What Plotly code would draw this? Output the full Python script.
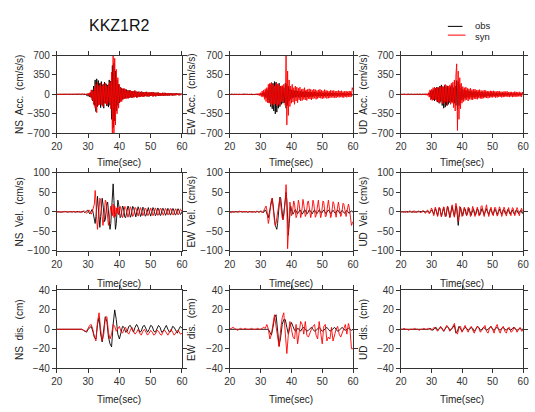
import numpy as np
import plotly.graph_objects as go

# ---------------- data ----------------
station = "KKZ1R2"
x_ticks = [20, 30, 40, 50, 60]
acc_ticks = [-700, -350, 0, 350, 700]
vel_ticks = [-100, -50, 0, 50, 100]
dis_ticks = [-40, -20, 0, 20, 40]

t_acc = np.round(20 + 0.25 * np.arange(161), 2)
t_vel = np.round(20 + 0.25 * np.arange(161), 2)
t_dis = np.round(20 + 0.5 * np.arange(81), 2)

ns_acc_obs = [
    0, 1, -1, 2, -2, 1, 0, -1, 1, -2, 2, -1, 0, 1, -1, 2,
    -2, 1, 0, -1, 2, -2, 1, 0, -1, 2, -3, 3, -2, 1, -4, 4,
    -5, 6, -8, 5, -12, 8, -20, 10, -35, 15, -45, 30, -60, 80, -120, 150,
    -200, 260, -310, 280, -220, 250, -180, 200, -240, 230, -200, 180, -250, 220, -160, 190,
    -210, 170, -230, 260, -200, 240, -450, 520, -600, 560, -480, 420, -300, 260, -200, 180,
    -150, 130, -120, 110, -90, 100, -80, 90, -70, 85, -60, 75, -65, 70, -55, 60,
    -60, 55, -50, 65, -45, 50, -55, 45, -40, 50, -45, 40, -35, 45, -40, 35,
    -35, 40, -30, 45, -35, 30, -40, 35, -30, 35, -25, 40, -30, 28, -35, 30,
    -25, 30, -28, 25, -30, 22, -20, 28, -25, 20, -22, 25, -18, 20, -25, 18,
    -20, 22, -15, 18, -20, 15, -18, 20, -15, 18, -12, 15, -18, 14, -12, 15,
    0]
ns_acc_syn = [
    0, 0, 1, -1, 0, 1, -1, 0, 1, -1, 0, 1, -1, 0, 1, -1,
    0, 1, -1, 0, 1, -1, 0, 1, -1, 0, 2, -2, 1, -1, 2, -2,
    3, -3, 4, -5, 6, -8, 10, -12, 18, -25, 30, -50, 80, -100, 60, -180,
    120, -250, 180, -330, 220, -200, 160, -190, 210, -180, 150, -220, 190, -160, 200, -170,
    150, -200, 180, -150, 220, -260, 400, -750, 750, -700, 650, -550, 450, -350, 300, -250,
    180, -140, 120, -130, 100, -90, 110, -80, 90, -75, 70, -80, 65, -60, 75, -55,
    60, -65, 50, -55, 70, -45, 50, -60, 45, -50, 40, -45, 55, -40, 35, -45,
    40, -35, 45, -40, 30, -35, 40, -30, 35, -30, 40, -45, 35, -30, 28, -35,
    30, -25, 35, -28, 25, -30, 22, -25, 28, -22, 30, -25, 20, -22, 25, -20,
    22, -18, 20, -22, 18, -20, 15, -18, 20, -15, 18, -12, 15, -18, 12, -15,
    0]
ew_acc_obs = [
    0, 1, -1, 1, 0, -1, 1, 0, -1, 1, 0, -1, 1, 0, -1, 1,
    0, -1, 1, 0, -1, 1, 0, -1, 1, -1, 2, -1, 1, -2, 2, -1,
    2, -3, 3, -2, 4, -5, 6, -8, 10, -15, 20, -25, 35, -40, 50, -60,
    80, -100, 120, -150, 180, -220, 210, -260, 200, -300, 230, -350, 220, -320, 180, -250,
    200, -220, 150, -180, 140, -160, 120, -150, 200, -250, 180, -200, 150, -120, 100, -90,
    80, -70, 75, -60, 65, -55, 70, -50, 60, -55, 50, -60, 55, -45, 50, -50,
    45, -50, 55, -40, 45, -45, 40, -50, 45, -40, 35, -45, 40, -35, 45, -30,
    35, -40, 30, -35, 40, -30, 35, -30, 30, -35, 28, -30, 32, -25, 30, -28,
    25, -30, 28, -22, 25, -28, 22, -25, 25, -20, 22, -25, 20, -22, 18, -20,
    20, -18, 22, -15, 18, -20, 15, -18, 18, -15, 20, -14, 16, -15, 12, -14,
    0]
ew_acc_syn = [
    3, -5, 4, -2, 6, -4, 2, -5, 4, -3, 5, -6, 3, -2, 5, -4,
    2, -5, 6, -3, 4, -5, 3, -2, 5, -6, 4, -3, 6, -5, 3, -6,
    8, -6, 10, -8, 12, -15, 20, -25, 30, -40, 60, -50, 80, -90, 100, -130,
    120, -150, 180, -160, 200, -190, 210, -170, 180, -200, 150, -170, 200, -210, 190, -180,
    170, -200, 150, -130, 160, -140, 180, -150, -200, 700, -550, 420, -380, 260, -220, 150,
    -160, 180, -140, 120, -180, 150, -120, 130, -150, 110, -100, 130, -120, 90, -110, 100,
    -90, 120, -100, 80, -110, 90, -80, 100, -85, 90, -100, 75, -80, 95, -70, 85,
    -90, 70, -75, 80, -65, 90, -70, 75, -80, 65, -70, 85, -60, 70, -75, 65,
    -70, 60, -65, 75, -55, 65, -60, 70, -60, 55, -65, 60, -50, 70, -55, 60,
    -50, 65, -55, 50, -60, 55, -45, 60, -55, 50, -45, 60, -50, 55, -40, 120,
    80]
ud_acc_obs = [
    0, 1, -1, 0, 1, -1, 0, 1, -1, 0, 1, -1, 0, 1, -1, 0,
    1, -1, 0, 1, -1, 0, 1, -1, 0, 2, -2, 1, -1, 3, -3, 2,
    -4, 5, -6, 8, -10, 20, -40, 60, -80, 70, -100, 90, -120, 110, -100, 130,
    -140, 120, -160, 150, -130, 170, -200, 140, -250, 160, -230, 130, -200, 150, -180, 120,
    -150, 140, -130, 160, -140, 120, -160, 150, -200, 250, -280, 230, -200, 180, -150, 120,
    -100, 90, -85, 80, -70, 75, -65, 70, -60, 65, -55, 60, -50, 55, -60, 50,
    -50, 55, -45, 50, -55, 45, -40, 50, -45, 40, -50, 45, -40, 35, -45, 40,
    -35, 40, -30, 35, -40, 30, -35, 32, -30, 35, -28, 30, -32, 25, -30, 28,
    -25, 30, -28, 22, -25, 28, -22, 25, -25, 20, -22, 25, -20, 22, -18, 20,
    -20, 18, -22, 15, -18, 20, -15, 18, -18, 15, -20, 14, -16, 15, -12, 14,
    0]
ud_acc_syn = [
    2, -3, 4, -2, 5, -4, 3, -6, 5, -3, 8, -6, 4, -5, 6, -3,
    4, -7, 10, -5, 6, -8, 5, -4, 7, -6, 5, -8, 10, -6, 8, -10,
    12, -15, 10, -20, 30, -50, 80, -100, 90, -110, 120, -100, 130, -90, 110, -130,
    120, -140, 130, -160, 150, -120, 140, -170, 130, -150, 180, -140, 160, -200, 150, -130,
    170, -180, 200, -160, 220, -240, 260, -300, 350, 550, -650, 420, -450, 300, -260, 200,
    -160, 140, -130, 120, -110, 130, -100, 110, -120, 100, -90, 110, -95, 85, -100, 90,
    -80, 95, -85, 75, -90, 80, -70, 85, -75, 70, -80, 65, -70, 75, -60, 70,
    -65, 60, -70, 55, -60, 65, -55, 60, -55, 65, -50, 55, -60, 50, -55, 60,
    -50, 55, -45, 50, -55, 45, -50, 55, -45, 50, -40, 55, -45, 40, -50, 45,
    -40, 45, -50, 40, -45, 50, -40, 45, -45, 40, -35, 45, -40, 35, -45, 40,
    0]

ns_vel_obs = [
    0, 0, 1, 0, -1, 0, 1, 0, 0, -1, 0, 1, 0, 0, -1, 0,
    1, 0, 0, -1, 0, 1, 0, 0, -1, 0, 1, 1, 0, -1, -1, 0,
    1, 2, 1, -1, -2, 0, 3, 4, 2, -3, -5, -2, 4, 6, 2, -8,
    -18, -30, -12, 25, 40, 12, -28, -40, -12, 22, 35, 20, -8, -25, -20, 5,
    20, 25, 5, -30, -45, -30, 10, 50, 72, 30, -20, -45, -30, 10, 30, 20,
    -5, -15, -12, 5, 15, 12, -2, -14, -15, -5, 10, 15, 8, -6, -14, -10,
    4, 14, 12, 0, -12, -13, -3, 10, 13, 6, -8, -12, -8, 4, 12, 9,
    -3, -11, -10, 0, 10, 11, 2, -9, -11, -4, 7, 11, 6, -5, -10, -7,
    3, 10, 8, -2, -9, -9, 0, 8, 9, 3, -6, -9, -5, 4, 9, 6,
    -3, -8, -7, 1, 8, 8, 0, -7, -8, -3, 5, 8, 4, -4, -7, -5,
    0]
ns_vel_syn = [
    0, 0, 0, 1, 0, 0, -1, 0, 0, 0, 1, 0, 0, -1, 0, 0,
    0, 1, 0, 0, -1, 0, 0, 1, 0, 0, -1, 0, 1, 1, 0, -1,
    -1, 0, 2, 3, 1, -2, -4, -2, 3, 5, 2, -3, -6, -2, 5, 10,
    20, 55, 30, -20, -45, -20, 20, 35, 30, 0, -25, -35, -20, 10, 30, 25,
    5, -20, -35, -20, 5, 15, 5, -10, 20, -15, 15, -12, 10, -5, 12, -8,
    10, 14, 5, -8, -15, -10, 3, 14, 12, 2, -10, -14, -6, 8, 13, 8,
    -4, -12, -10, 2, 11, 10, 0, -10, -11, -3, 8, 11, 5, -6, -10, -6,
    4, 10, 8, -2, -9, -9, 0, 8, 10, 4, -6, -10, -5, 5, 10, 6,
    -4, -9, -8, 1, 8, 9, 2, -7, -9, -4, 5, 9, 6, -3, -8, -7,
    2, 8, 8, 0, -7, -8, -2, 6, 8, 4, -4, -8, -5, 3, 7, 5,
    0]
ew_vel_obs = [
    0, 0, 1, 0, 0, -1, 0, 0, 1, 0, 0, -1, 0, 0, 1, 0,
    0, -1, 0, 0, 1, 0, 0, -1, 0, 0, 1, 0, -1, 0, 0, 1,
    0, -1, 0, 1, 1, 0, -1, 0, 1, 2, 0, -2, -1, 3, 5, 2,
    -5, -12, -15, -5, 5, 18, 30, 35, 20, 0, -20, -35, -40, -45, -30, 0,
    25, 38, 35, 10, -15, -20, -5, 15, 30, 50, 30, -30, -60, -30, 10, 15,
    5, -3, -6, -2, 4, 6, 2, -3, -5, -2, 3, 5, 2, -3, -6, -3,
    2, 5, 4, -1, -5, -4, 1, 5, 4, 0, -4, -5, -1, 4, 5, 1,
    -3, -5, -2, 3, 5, 2, -3, -4, -1, 4, 5, 1, -4, -5, -1, 3,
    5, 2, -3, -5, -2, 3, 4, 1, -3, -4, -1, 3, 5, 2, -3, -4,
    -1, 3, 4, 1, -3, -4, -1, 3, 4, 1, -3, -4, -1, 2, 3, 0,
    0]
ew_vel_syn = [
    0, -2, -3, -1, 2, 1, -1, 0, 1, 0, -1, 0, 1, 2, 0, -1,
    0, 1, 0, -1, 0, 1, 0, 0, -1, 0, 1, 0, -1, 0, 1, 0,
    0, -1, 1, 2, 0, -2, -1, 1, 2, 0, -3, -1, 3, 8, 10, 15,
    5, -15, -30, -20, 5, 20, 30, 35, 15, -10, -25, -35, -30, -15, 0, 15,
    30, 35, 20, 0, -15, -20, -10, 10, 30, 70, 20, -95, -40, 5, 25, 10,
    -10, -5, 15, 28, 20, 0, -15, -10, 10, 30, 20, -5, -15, -5, 15, 32,
    20, 0, -12, -8, 10, 25, 28, 10, -8, -15, -5, 15, 30, 22, 0, -14,
    -10, 8, 25, 30, 12, -8, -15, -5, 12, 28, 25, 5, -12, -12, 5, 25,
    30, 15, -5, -15, -8, 10, 26, 22, 5, -10, -14, 0, 18, 25, 12, -5,
    -12, -8, 8, 22, 20, 5, -10, -12, 0, 15, 20, 12, -5, -20, -35, -30,
    -25]
ud_vel_obs = [
    0, 0, 0, 1, 0, 0, -1, 0, 0, 1, 0, 0, -1, 0, 0, 1,
    0, 0, -1, 0, 1, 0, 0, -1, 0, 1, 0, -1, 0, 1, 0, -1,
    0, 1, -1, 0, 2, -1, -2, 1, 3, 5, -2, -6, 0, 8, 4, -6,
    -10, -2, 10, 8, -5, -12, -4, 10, 12, 0, -12, -10, 5, 14, 8, -8,
    -14, -5, 10, 14, 4, -10, -12, 0, 15, 10, -20, -35, -15, 8, 12, 3,
    -8, -10, 0, 9, 8, -3, -9, -5, 5, 9, 3, -6, -9, -2, 7, 8,
    0, -8, -7, 2, 8, 6, -3, -8, -5, 4, 8, 4, -5, -8, -2, 6,
    8, 2, -6, -7, 0, 7, 6, -2, -7, -5, 3, 7, 4, -4, -7, -2,
    5, 7, 1, -6, -6, 1, 6, 5, -2, -6, -4, 3, 6, 3, -4, -6,
    -1, 5, 5, -1, -5, -4, 2, 5, 3, -3, -5, -1, 4, 4, -1, -4,
    0]
ud_vel_syn = [
    0, 1, 0, -1, 0, 1, 2, 1, -1, -2, 0, 2, 3, 1, -2, -3,
    0, 3, 2, -1, -3, -1, 2, 3, 1, -2, -3, 0, 3, 4, 1, -3,
    -4, 0, 4, 5, 0, -5, -3, 4, 10, 5, -8, -10, 2, 12, 6, -9,
    -12, 0, 12, 10, -6, -13, -3, 11, 13, 2, -11, -12, 3, 15, 10, -6,
    -15, -8, 10, 18, 8, -10, -14, 5, 22, 12, -15, -25, -5, 14, 10, -6,
    -12, -4, 10, 12, 2, -10, -10, 3, 12, 10, -4, -12, -6, 8, 14, 5,
    -8, -12, -2, 10, 12, 2, -10, -10, 4, 14, 16, 4, -10, -12, 0, 12,
    18, 6, -8, -12, -2, 10, 12, 2, -10, -10, 4, 12, 10, -3, -11, -8,
    5, 13, 9, -4, -12, -6, 7, 12, 6, -6, -11, -3, 9, 11, 2, -9,
    -10, 1, 11, 9, -3, -10, -6, 6, 11, 6, -6, -10, -2, 8, 9, 2,
    0]

ns_dis_obs = [
    0, 0, 0, 0, 0, 0, 0, 0, 0, 0, 0, 0, 0, 0, 0, 0,
    0, -1, -2, -3, 0, 2, 3, -2, -8, -10, 5, 12, -5, -13, 2, 13,
    8, -8, -15, -18, 5, 20, 10, -5, -10, -3, 3, 2, -3, -2, 3, 4,
    0, -3, 2, 5, 2, -3, -2, 3, 4, 0, -3, 0, 4, 3, -2, -3,
    1, 4, 2, -3, -2, 2, 4, 0, -3, -2, 3, 2, -2, -4, 0, 3,
    1]
ns_dis_syn = [
    0, 0, 0, 0, 0, 0, 0, 0, 0, 0, 0, 0, 0, 0, 0, 0,
    0, -1, -2, -2, 1, 4, 5, 0, -8, -12, 8, 17, 0, -12, -5, 12,
    13, -3, -10, -5, 5, 3, -2, 1, 3, -2, -4, 0, 2, -3, -5, -1,
    2, -2, -5, -3, 0, -4, -6, -2, 0, -3, -6, -4, -1, -3, -6, -5,
    -1, -2, -5, -6, -2, -1, -4, -6, -3, 0, -3, -6, -4, -1, -2, -5,
    -4]
ew_dis_obs = [
    0, 0, 0, 0, 0, 0, 0, 0, 0, 0, 0, 0, 0, 0, 0, 0,
    0, 0, 0, 0, 0, 0, 0, 0, 0, 0, -3, -6, 2, 12, 15, 2,
    -17, -8, 5, 10, 10, 2, -5, 3, 7, 3, -1, -2, 1, 0, -2, 1,
    2, 0, -2, -1, 1, 2, 0, -2, -1, 1, 2, 0, -2, -1, 1, 2,
    0, -2, -1, 1, 2, 0, -2, -1, 1, 2, 0, -1, 0, 1, 0, -1,
    0]
ew_dis_syn = [
    0, 1, 2, 1, 0, -1, 0, 1, 0, 0, 1, 0, 0, 0, 1, 0,
    0, 0, 1, 0, 0, 1, 2, 1, 5, 0, -10, -5, 8, 15, 3, -10,
    -18, 0, 12, 17, -3, -25, -5, 8, 0, -8, -10, 5, -15, 0, 8, 5,
    -5, 8, -6, -8, -3, 0, 3, 5, -6, -10, 8, -5, -15, 3, 5, -12,
    -8, -10, 2, -12, -5, 0, 3, -5, -8, -3, 2, 5, -5, 6, 0, -20,
    -20]
ud_dis_obs = [
    0, 0, 0, 0, 0, 0, 0, 0, 0, 0, 0, 0, 0, 0, 0, 0,
    0, 0, 0, 1, 0, -1, 1, 2, -1, 0, 2, 1, -2, 0, 3, 2,
    -1, 0, 2, 4, -4, -2, 3, 1, -2, 0, 2, 1, -1, 0, 2, 1,
    -2, 0, 3, 2, -1, 0, 2, 1, -1, 0, 2, 3, 0, -1, 1, 2,
    0, -1, 1, 2, 0, -1, 1, 0, -1, 1, 2, 0, -1, 0, 1, 0,
    0]
ud_dis_syn = [
    0, 0, 1, 0, 0, -1, 0, 0, 0, 1, 0, 0, -1, 0, 0, 1,
    0, 0, 1, 0, -1, 1, 2, 0, -2, 1, 3, 0, -2, 1, 4, 2,
    -2, 0, 4, 6, -2, -5, 2, 3, -3, 1, 4, 0, -3, 1, 3, -1,
    -4, 0, 3, 1, -3, -1, 2, 4, -2, -4, 1, 3, 0, -4, 2, 5,
    -1, -4, 1, 3, -2, -4, 1, 2, -3, -2, 2, 1, -3, 0, 2, -2,
    -1]

# ---------------- figure ----------------
W, H = 535, 412
col_px = [(52, 180), (229, 355), (404, 529)]
row_px = [(51, 131), (172, 252), (293, 373)]

panels = [
    (0, 0, t_acc, ns_acc_obs, ns_acc_syn, acc_ticks, "NS  Acc.  (cm/s/s)"),
    (0, 1, t_acc, ew_acc_obs, ew_acc_syn, acc_ticks, "EW  Acc.  (cm/s/s)"),
    (0, 2, t_acc, ud_acc_obs, ud_acc_syn, acc_ticks, "UD  Acc.  (cm/s/s)"),
    (1, 0, t_vel, ns_vel_obs, ns_vel_syn, vel_ticks, "NS  Vel.  (cm/s)"),
    (1, 1, t_vel, ew_vel_obs, ew_vel_syn, vel_ticks, "EW  Vel.  (cm/s)"),
    (1, 2, t_vel, ud_vel_obs, ud_vel_syn, vel_ticks, "UD  Vel.  (cm/s)"),
    (2, 0, t_dis, ns_dis_obs, ns_dis_syn, dis_ticks, "NS  dis.  (cm)"),
    (2, 1, t_dis, ew_dis_obs, ew_dis_syn, dis_ticks, "EW  dis.  (cm)"),
    (2, 2, t_dis, ud_dis_obs, ud_dis_syn, dis_ticks, "UD  dis.  (cm)"),
]

fig = go.Figure()
font_family = "Liberation Sans, Arial, sans-serif"
axis_color = "#333333"
annotations = []
layout = {}

for k, (r, c, t, obs, syn, yt, ylab) in enumerate(panels):
    idx = k + 1
    xa = "x" if idx == 1 else f"x{idx}"
    ya = "y" if idx == 1 else f"y{idx}"
    fig.add_trace(go.Scatter(x=t, y=obs, mode="lines", name="obs",
                             line=dict(color="#000000", width=0.9),
                             xaxis=xa, yaxis=ya, showlegend=False))
    fig.add_trace(go.Scatter(x=t, y=syn, mode="lines", name="syn",
                             line=dict(color="#ff0000", width=0.9),
                             xaxis=xa, yaxis=ya, showlegend=False))
    x0, x1 = col_px[c]
    y0, y1 = row_px[r]
    common = dict(showline=True, linecolor=axis_color, linewidth=1, mirror="ticks",
                  ticks="outside", ticklen=4, tickcolor=axis_color, tickwidth=1,
                  showgrid=False, zeroline=False,
                  tickfont=dict(family=font_family, size=10, color="#333333"))
    layout["xaxis" if idx == 1 else f"xaxis{idx}"] = dict(
        domain=[x0 / W, x1 / W], range=[20, 60], tickvals=x_ticks,
        anchor=ya, **common)
    layout["yaxis" if idx == 1 else f"yaxis{idx}"] = dict(
        domain=[1 - y1 / H, 1 - y0 / H], range=[yt[0], yt[-1]], tickvals=yt,
        anchor=xa, **common)
    ylab_x = [14, 190, 366][c]
    annotations.append(dict(text=ylab, x=ylab_x / W, y=1 - (y0 + y1) / 2 / H,
                            xref="paper", yref="paper", showarrow=False, textangle=-90,
                            xanchor="center", yanchor="middle",
                            font=dict(family=font_family, size=10, color="#222222")))
    xlab_y = [161, 286, 405][r]
    annotations.append(dict(text="Time(sec)", x=(x0 + x1) / 2 / W, y=1 - xlab_y / H,
                            xref="paper", yref="paper", showarrow=False,
                            xanchor="center", yanchor="middle",
                            font=dict(family=font_family, size=10, color="#222222")))

annotations.append(dict(text=station, x=116 / W, y=1 - 20 / H, xref="paper", yref="paper",
                        showarrow=False, xanchor="center", yanchor="middle",
                        font=dict(family=font_family, size=16, color="#111111")))
annotations.append(dict(text="obs", x=478 / W, y=1 - 20 / H, xref="paper", yref="paper",
                        showarrow=False, xanchor="left", yanchor="middle",
                        font=dict(family=font_family, size=9.5, color="#222222")))
annotations.append(dict(text="syn", x=478 / W, y=1 - 31 / H, xref="paper", yref="paper",
                        showarrow=False, xanchor="left", yanchor="middle",
                        font=dict(family=font_family, size=9.5, color="#222222")))
shapes = [
    dict(type="line", xref="paper", yref="paper", x0=452 / W, x1=467 / W,
         y0=1 - 21 / H, y1=1 - 21 / H, line=dict(color="#000000", width=1)),
    dict(type="line", xref="paper", yref="paper", x0=452 / W, x1=470 / W,
         y0=1 - 30 / H, y1=1 - 30 / H, line=dict(color="#ff0000", width=1)),
]

fig.update_layout(width=W, height=H, margin=dict(l=0, r=0, t=0, b=0),
                  paper_bgcolor="white", plot_bgcolor="white",
                  annotations=annotations, shapes=shapes, showlegend=False,
                  **layout)
fig.write_html("out.html")
